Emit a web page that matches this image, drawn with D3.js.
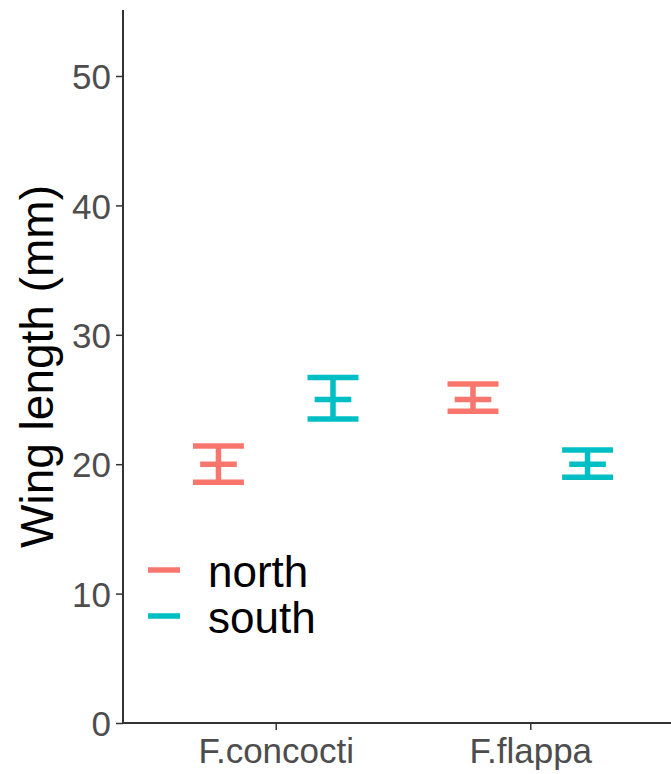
<!DOCTYPE html>
<html>
<head>
<meta charset="utf-8">
<script src="https://cdn.jsdelivr.net/npm/d3@7"></script>
<style>
    body { margin: 0; background: #fff; }
    svg { display: block; font-family: "Liberation Sans", Arial, sans-serif; }
</style>
</head>
<body>
<svg id="chart" width="671" height="774"></svg>
<script>
// data
const species = ["F.concocti", "F.flappa"];
const regions = ["north", "south"];
const means = [
    { species: "F.concocti", region: "north", mean: 20.0, lo: 18.6, hi: 21.4 },
    { species: "F.concocti", region: "south", mean: 25.0, lo: 23.5, hi: 26.7 },
    { species: "F.flappa",   region: "north", mean: 25.0, lo: 24.1, hi: 26.2 },
    { species: "F.flappa",   region: "south", mean: 20.0, lo: 19.0, hi: 21.1 }
];
const yTicks = [0, 10, 20, 30, 40, 50];
const colors = ["#F8766D", "#00BFC4"];

const svg = d3.select("#chart");

const panel = { left: 123, right: 683, top: 10, bottom: 723 };

const xScale = d3.scalePoint()
    .domain(species)
    .range([panel.left, panel.right])
    .padding(0.6);

const yScale = d3.scaleLinear()
    .domain([0, 55.1])
    .range([panel.bottom, panel.top]);

const colorScale = d3.scaleOrdinal().domain(regions).range(colors);

const step = xScale.step();
const dodge = d3.scaleBand().domain(regions).range([-0.45 * step, 0.45 * step]);
const xPos = d => xScale(d.species) + dodge(d.region) + dodge.bandwidth() / 2;

const capHalf = 0.1 * step;
const midHalf = 0.072 * step;

// axes
const yAxis = svg.append("g")
    .attr("transform", `translate(${panel.left},0)`)
    .call(d3.axisLeft(yScale).tickValues(yTicks).tickSize(7).tickPadding(5).tickFormat(d3.format("d")));

const xAxis = svg.append("g")
    .attr("transform", `translate(0,${panel.bottom})`)
    .call(d3.axisBottom(xScale).tickSize(7).tickPadding(4));

[yAxis, xAxis].forEach(ax => {
    ax.select(".domain").remove();
    ax.selectAll(".tick line").attr("stroke", "#333").attr("stroke-width", 1.5);
    ax.selectAll(".tick text")
        .attr("fill", "#4D4D4D")
        .style("font-size", "35px")
        .style("font-family", "Liberation Sans, Arial, sans-serif");
});
xAxis.selectAll(".tick text").attr("dy", "0.82em");
yAxis.selectAll(".tick text").attr("dy", "0.36em");

// axis lines
svg.append("line")
    .attr("x1", panel.left).attr("x2", panel.left)
    .attr("y1", panel.top).attr("y2", panel.bottom)
    .attr("stroke", "#333").attr("stroke-width", 2);
svg.append("line")
    .attr("x1", panel.left).attr("x2", panel.right)
    .attr("y1", panel.bottom).attr("y2", panel.bottom)
    .attr("stroke", "#333").attr("stroke-width", 2);

// error bars
const bars = svg.append("g")
    .selectAll("g")
    .data(means)
    .join("g")
    .attr("stroke", d => colorScale(d.region))
    .attr("stroke-width", 5.5);

bars.append("line")
    .attr("x1", xPos).attr("x2", xPos)
    .attr("y1", d => yScale(d.hi)).attr("y2", d => yScale(d.lo));
bars.append("line")
    .attr("x1", d => xPos(d) - capHalf).attr("x2", d => xPos(d) + capHalf)
    .attr("y1", d => yScale(d.hi)).attr("y2", d => yScale(d.hi));
bars.append("line")
    .attr("x1", d => xPos(d) - capHalf).attr("x2", d => xPos(d) + capHalf)
    .attr("y1", d => yScale(d.lo)).attr("y2", d => yScale(d.lo));
bars.append("line")
    .attr("x1", d => xPos(d) - midHalf).attr("x2", d => xPos(d) + midHalf)
    .attr("y1", d => yScale(d.mean)).attr("y2", d => yScale(d.mean));

// y title
svg.append("text")
    .attr("transform", `translate(53,${(panel.top + panel.bottom) / 2}) rotate(-90)`)
    .attr("text-anchor", "middle")
    .attr("fill", "#000")
    .style("font-size", "46px")
    .text("Wing length (mm)");

// legend
const legend = svg.append("g")
    .selectAll("g")
    .data(regions)
    .join("g")
    .attr("transform", (d, i) => `translate(148,${570 + i * 46})`);

legend.append("line")
    .attr("x1", 0).attr("x2", 32)
    .attr("stroke", d => colorScale(d))
    .attr("stroke-width", 5.5);

legend.append("text")
    .attr("x", 60)
    .attr("dy", "0.38em")
    .attr("fill", "#000")
    .style("font-size", "44px")
    .text(d => d);
</script>
</body>
</html>
